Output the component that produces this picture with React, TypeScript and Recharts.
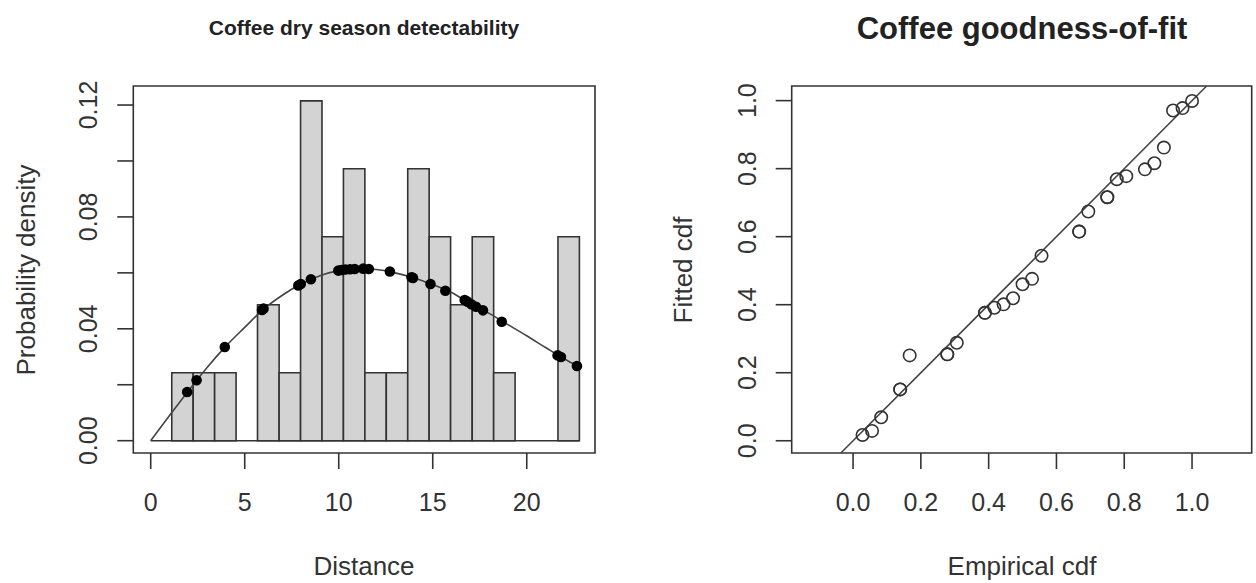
import React from 'react';
import {
  ComposedChart,
  Line,
  Scatter,
  XAxis,
  YAxis,
  ReferenceArea,
  ReferenceLine,
} from 'recharts';

// histogram of distances (bin edges + density per bin)
const binEdges = [1.12, 2.26, 3.4, 4.54, 5.68, 6.83, 7.97, 9.11, 10.25, 11.39, 12.53, 13.67, 14.81, 15.95, 17.1, 18.24, 19.38, 20.52, 21.66, 22.8];
const binDensity = [0.0243, 0.0243, 0.0243, 0, 0.0486, 0.0243, 0.1215, 0.0729, 0.0972, 0.0243, 0.0243, 0.0972, 0.0729, 0.0486, 0.0729, 0.0243, 0, 0, 0.0729];

// fitted detection curve
const curveX = [0, 1, 2, 3, 4, 5, 6, 7, 8, 9, 10, 11, 12, 13, 14, 15, 16, 17, 18, 19, 20, 21, 22, 22.7];
const curveY = [0, 0.009, 0.0178, 0.0262, 0.0338, 0.0405, 0.047, 0.052, 0.056, 0.059, 0.0608, 0.0615, 0.0612, 0.06, 0.0582, 0.0558, 0.053, 0.049, 0.0455, 0.0415, 0.0375, 0.0333, 0.0292, 0.0267];

// observed distances on the curve
const obsX = [1.94, 2.44, 3.94, 5.92, 6.0, 7.85, 7.98, 8.52, 9.98, 10.15, 10.35, 10.6, 10.85, 11.3, 11.6, 12.72, 13.87, 13.95, 14.88, 15.67, 16.7, 16.85, 17.05, 17.3, 17.67, 18.67, 21.64, 21.82, 22.67];
const obsY = [0.0174, 0.0216, 0.0335, 0.0467, 0.0472, 0.0555, 0.056, 0.0577, 0.0608, 0.061, 0.0612, 0.0613, 0.0614, 0.0615, 0.0614, 0.0605, 0.0584, 0.0582, 0.056, 0.0536, 0.0503, 0.0497, 0.0488, 0.0479, 0.0466, 0.0425, 0.0305, 0.0299, 0.0267];

const distTicks = [0, 5, 10, 15, 20];
const densTicks = [0, 0.02, 0.04, 0.06, 0.08, 0.1, 0.12];
const densLabels = ['0.00', '', '0.04', '', '0.08', '', '0.12'];

// goodness-of-fit: empirical vs fitted cdf
const empCdf = [0.028, 0.056, 0.083, 0.139, 0.139, 0.167, 0.278, 0.278, 0.306, 0.389, 0.389, 0.417, 0.444, 0.472, 0.5, 0.528, 0.556, 0.667, 0.667, 0.694, 0.75, 0.75, 0.778, 0.806, 0.861, 0.889, 0.917, 0.944, 0.972, 1.0];
const fitCdf = [0.017, 0.029, 0.069, 0.151, 0.151, 0.251, 0.254, 0.254, 0.288, 0.376, 0.376, 0.391, 0.401, 0.419, 0.46, 0.476, 0.544, 0.615, 0.615, 0.674, 0.716, 0.716, 0.769, 0.778, 0.798, 0.816, 0.862, 0.971, 0.978, 0.999];

const cdfTicks = [0, 0.2, 0.4, 0.6, 0.8, 1.0];
const cdfLabels = ['0.0', '0.2', '0.4', '0.6', '0.8', '1.0'];

const LX: [number, number] = [-0.926, 23.63];
const LY: [number, number] = [-0.0044, 0.1268];
const RX: [number, number] = [-0.181, 1.176];
const RY: [number, number] = [-0.036, 1.043];

const FONT = '"Liberation Sans", Arial, Helvetica, sans-serif';
const INK = '#333';

const curveData = curveX.map((x, i) => ({ x, y: curveY[i] }));
const obsData = obsX.map((x, i) => ({ x, y: obsY[i] }));
const cdfData = empCdf.map((x, i) => ({ x, y: fitCdf[i] }));

const makeYTick = (labels: string[]) => (props: any) => {
  const { x, y, index } = props;
  const cx = x - 27;
  return (
    <text
      x={cx}
      y={y}
      transform={`rotate(-90, ${cx}, ${y})`}
      textAnchor="middle"
      dominantBaseline="central"
      fontSize={25}
      fontFamily={FONT}
      fill={INK}
    >
      {labels[index]}
    </text>
  );
};

const makeXTick = (labels: string[]) => (props: any) => {
  const { x, y, index } = props;
  return (
    <text
      x={x}
      y={y + 31}
      textAnchor="middle"
      dominantBaseline="central"
      fontSize={25}
      fontFamily={FONT}
      fill={INK}
    >
      {labels[index]}
    </text>
  );
};

const tickLine = { stroke: INK, strokeWidth: 1.6 };

const Dot = (props: any) => <circle cx={props.cx} cy={props.cy} r={5.3} fill="#000" />;
const Ring = (props: any) => (
  <circle cx={props.cx} cy={props.cy} r={6.2} fill="none" stroke={INK} strokeWidth={1.6} />
);

const text = (style: React.CSSProperties, content: string) => (
  <div
    style={{
      position: 'absolute',
      fontFamily: FONT,
      color: '#222',
      whiteSpace: 'nowrap',
      lineHeight: 1,
      ...style,
    }}
  >
    {content}
  </div>
);

export default function App() {
  return (
    <div style={{ position: 'absolute', left: 0, top: 0, width: 1256, height: 583, background: '#fff' }}>
      {/* detectability histogram */}
      <div style={{ position: 'absolute', left: 0, top: 0 }}>
        <ComposedChart width={628} height={583} margin={{ top: 86, right: 33, bottom: 0, left: 0 }}>
          <XAxis
            type="number"
            dataKey="x"
            domain={LX}
            allowDataOverflow
            ticks={distTicks}
            tick={makeXTick(distTicks.map(String))}
            tickSize={16}
            tickLine={tickLine}
            axisLine={false}
            height={130}
          />
          <YAxis
            type="number"
            dataKey="y"
            domain={LY}
            allowDataOverflow
            ticks={densTicks}
            tick={makeYTick(densLabels)}
            tickSize={16}
            tickLine={tickLine}
            axisLine={false}
            width={133.3}
          />
          {binDensity.map((d, i) => (
            <ReferenceArea
              key={`bin-${i}`}
              x1={binEdges[i]}
              x2={binEdges[i + 1]}
              y1={0}
              y2={d}
              fill="#d3d3d3"
              fillOpacity={1}
              stroke={INK}
              strokeWidth={1.6}
            />
          ))}
          <ReferenceLine
            segment={[{ x: 0, y: 0 }, { x: binEdges[binEdges.length - 1], y: 0 }]}
            stroke={INK}
            strokeWidth={1.6}
          />
          <Line
            data={curveData}
            dataKey="y"
            type="monotone"
            stroke="#444"
            strokeWidth={1.6}
            dot={false}
            isAnimationActive={false}
          />
          <Scatter data={obsData} dataKey="y" shape={Dot} isAnimationActive={false} />
          <ReferenceArea x1={LX[0]} x2={LX[1]} y1={LY[0]} y2={LY[1]} fill="none" stroke={INK} strokeWidth={1.6} />
        </ComposedChart>
      </div>

      {/* goodness of fit */}
      <div style={{ position: 'absolute', left: 628, top: 0 }}>
        <ComposedChart width={628} height={583} margin={{ top: 86, right: 4.3, bottom: 0, left: 0 }}>
          <XAxis
            type="number"
            dataKey="x"
            domain={RX}
            allowDataOverflow
            ticks={cdfTicks}
            tick={makeXTick(cdfLabels)}
            tickSize={16}
            tickLine={tickLine}
            axisLine={false}
            height={130}
          />
          <YAxis
            type="number"
            dataKey="y"
            domain={RY}
            allowDataOverflow
            ticks={cdfTicks}
            tick={makeYTick(cdfLabels)}
            tickSize={16}
            tickLine={tickLine}
            axisLine={false}
            width={163.7}
          />
          <ReferenceLine
            segment={[{ x: RY[0], y: RY[0] }, { x: RY[1], y: RY[1] }]}
            stroke="#444"
            strokeWidth={1.6}
          />
          <Scatter data={cdfData} dataKey="y" shape={Ring} isAnimationActive={false} />
          <ReferenceArea x1={RX[0]} x2={RX[1]} y1={RY[0]} y2={RY[1]} fill="none" stroke={INK} strokeWidth={1.6} />
        </ComposedChart>
      </div>

      {/* titles */}
      {text({ left: 364, top: 27, transform: 'translate(-50%, -50%)', fontSize: 21, fontWeight: 'bold' }, 'Coffee dry season detectability')}
      {text({ left: 1022, top: 28, transform: 'translate(-50%, -50%)', fontSize: 31, fontWeight: 'bold' }, 'Coffee goodness-of-fit')}
      {text({ left: 364, top: 566, transform: 'translate(-50%, -50%)', fontSize: 26, color: INK }, 'Distance')}
      {text({ left: 1022, top: 566, transform: 'translate(-50%, -50%)', fontSize: 26, color: INK }, 'Empirical cdf')}
      {text({ left: 26, top: 270, transform: 'translate(-50%, -50%) rotate(-90deg)', fontSize: 26, color: INK }, 'Probability density')}
      {text({ left: 683, top: 270, transform: 'translate(-50%, -50%) rotate(-90deg)', fontSize: 26, color: INK }, 'Fitted cdf')}
    </div>
  );
}
